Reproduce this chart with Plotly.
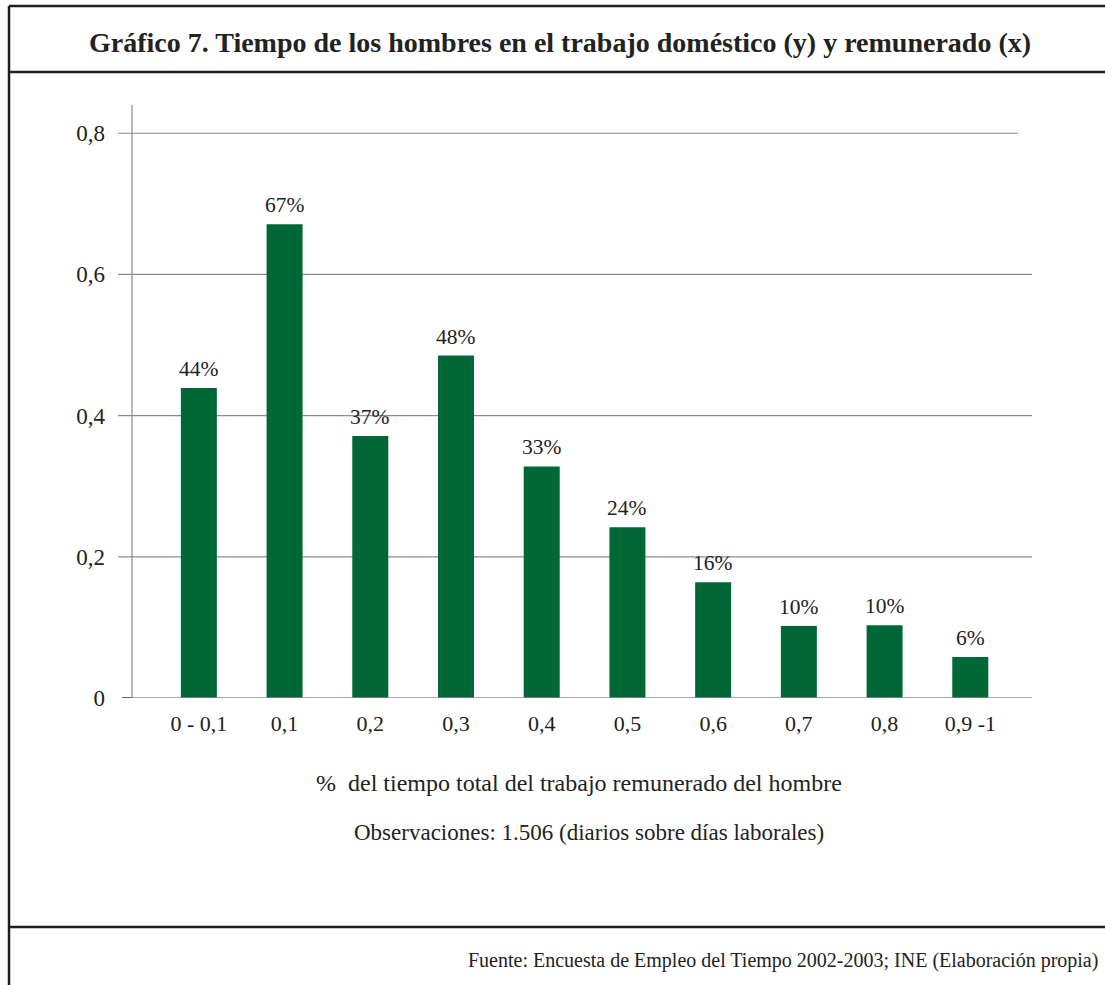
import plotly.graph_objects as go

categories = ["0 - 0,1", "0,1", "0,2", "0,3", "0,4", "0,5", "0,6", "0,7", "0,8", "0,9 -1"]
values = [0.439, 0.671, 0.371, 0.485, 0.328, 0.242, 0.164, 0.102, 0.103, 0.058]
bar_labels = ["44%", "67%", "37%", "48%", "33%", "24%", "16%", "10%", "10%", "6%"]
y_ticks = [0, 0.2, 0.4, 0.6, 0.8]
y_tick_labels = ["0", "0,2", "0,4", "0,6", "0,8"]

title = "Gráfico 7. Tiempo de los hombres en el trabajo doméstico (y) y remunerado (x)"
x_title = "%  del tiempo total del trabajo remunerado del hombre"
obs = "Observaciones: 1.506 (diarios sobre días laborales)"
source = "Fuente: Encuesta de Empleo del Tiempo 2002-2003; INE (Elaboración propia)"

FONT = "Liberation Serif"
TXT = "#222222"
W, H = 1105, 985
L, R, T, B = 132, 73, 105, 287
pw, ph = W - L - R, H - T - B

def px(x):
    return (x - L) / pw

def py(y):
    return (H - B - y) / ph

fig = go.Figure()
fig.add_trace(go.Bar(
    x=list(range(len(categories))), y=values,
    marker=dict(color="#006837", line=dict(width=0)),
    width=0.42, hoverinfo="skip",
))

shapes = []
# gridlines
for v in y_ticks[1:]:
    x1 = px(1018) if v == 0.8 else 1.0
    shapes.append(dict(type="line", xref="paper", yref="y", x0=px(118), x1=x1, y0=v, y1=v,
                       line=dict(color="#8c8c8c", width=1.2), layer="below"))
# zero line
shapes.append(dict(type="line", xref="paper", yref="y", x0=0, x1=1.0, y0=0, y1=0,
                   line=dict(color="#8c8c8c", width=1.5)))
shapes.append(dict(type="line", xref="paper", yref="y", x0=px(122), x1=0, y0=0, y1=0,
                   line=dict(color="#333333", width=1.5)))
# y axis line
shapes.append(dict(type="line", xref="paper", yref="paper", x0=0, x1=0, y0=0, y1=1,
                   line=dict(color="#8c8c8c", width=1.2)))
# frame lines
frame = dict(color="#1e1e1e", width=2.5)
shapes.append(dict(type="line", xref="paper", yref="paper", x0=px(9), x1=px(W + 5), y0=py(6), y1=py(6), line=frame))
shapes.append(dict(type="line", xref="paper", yref="paper", x0=px(9), x1=px(9), y0=py(6), y1=py(H + 5), line=frame))
shapes.append(dict(type="line", xref="paper", yref="paper", x0=px(9), x1=px(W + 5), y0=py(72), y1=py(72), line=frame))
shapes.append(dict(type="line", xref="paper", yref="paper", x0=px(9), x1=px(W + 5), y0=py(927), y1=py(927), line=frame))

annotations = []
for i, (v, t) in enumerate(zip(values, bar_labels)):
    annotations.append(dict(x=i, y=v, xref="x", yref="y", text=t, showarrow=False,
                            yanchor="bottom", yshift=5, font=dict(family=FONT, size=21.5, color=TXT)))
annotations.append(dict(x=px(560), y=py(42), xref="paper", yref="paper", text="<b>" + title + "</b>",
                        showarrow=False, xanchor="center", yanchor="middle",
                        font=dict(family=FONT, size=28, color=TXT)))
annotations.append(dict(x=px(579), y=py(783), xref="paper", yref="paper", text=x_title,
                        showarrow=False, xanchor="center", yanchor="middle",
                        font=dict(family=FONT, size=24, color=TXT)))
annotations.append(dict(x=px(589), y=py(832), xref="paper", yref="paper", text=obs,
                        showarrow=False, xanchor="center", yanchor="middle",
                        font=dict(family=FONT, size=23, color=TXT)))
annotations.append(dict(x=px(1100), y=py(960), xref="paper", yref="paper", text=source,
                        showarrow=False, xanchor="right", yanchor="middle",
                        font=dict(family=FONT, size=20, color=TXT)))

fig.update_layout(
    width=W, height=H,
    margin=dict(l=L, r=R, t=T, b=B, pad=0),
    paper_bgcolor="white", plot_bgcolor="white",
    showlegend=False,
    shapes=shapes, annotations=annotations,
    font=dict(family=FONT, color=TXT),
    xaxis=dict(range=[-0.78, 9.72], tickmode="array", tickvals=list(range(len(categories))),
               ticktext=categories, showgrid=False, zeroline=False, showline=False,
               ticks="", ticklabelstandoff=10, tickfont=dict(family=FONT, size=22, color=TXT),
               fixedrange=True),
    yaxis=dict(range=[0, 0.84], tickmode="array", tickvals=y_ticks, ticktext=y_tick_labels,
               showgrid=False, zeroline=False, showline=False, ticks="",
               ticklabelstandoff=26, tickfont=dict(family=FONT, size=23, color=TXT),
               fixedrange=True),
)

fig.write_html("out.html", config={"displayModeBar": False},
               post_script="document.body.style.margin='0';document.body.style.overflow='hidden';")
